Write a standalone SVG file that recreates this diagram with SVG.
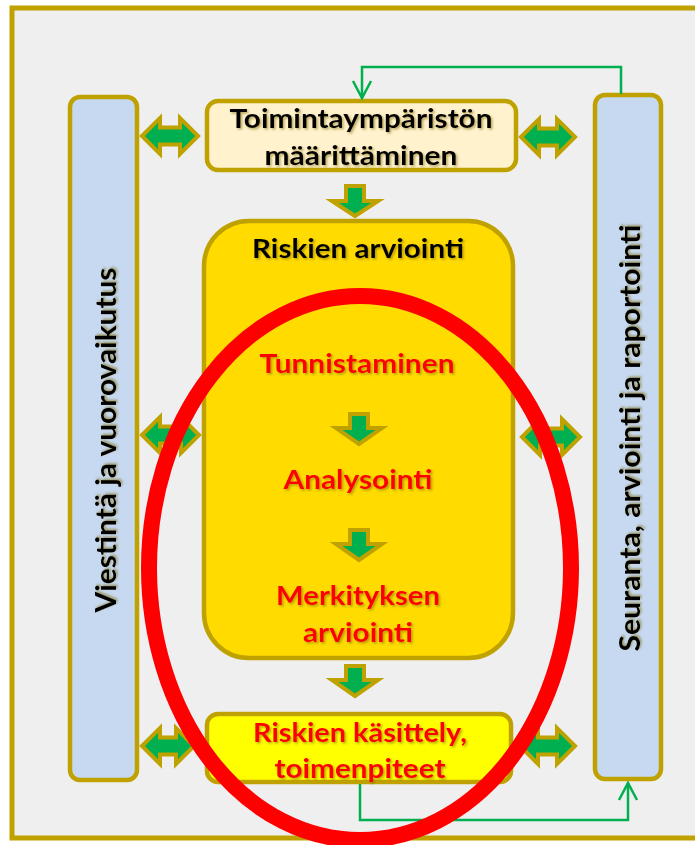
<svg xmlns="http://www.w3.org/2000/svg" width="695" height="845" viewBox="0 0 695 845">
<defs>
<style>
.frame{fill:#efefef;stroke:#bfa200;stroke-width:5}
.col{fill:#c6d9f1;stroke:#bfa200;stroke-width:4.5}
.box{stroke:#bfa200;stroke-width:4.5}
.blk{fill:#00b050;stroke:#bfa200;stroke-width:4;stroke-linejoin:miter}
.con{fill:none;stroke:#00b050;stroke-width:2.5}
.t{font-family:Lato,"Noto Sans","Liberation Sans",sans-serif;font-weight:bold;text-anchor:middle;filter:url(#sh)}
.k{fill:#000}
.r{fill:#ff0000}
</style>
<filter id="sh" x="-10%" y="-30%" width="120%" height="160%">
<feDropShadow dx="1.5" dy="1.5" stdDeviation="0.8" flood-color="#7a6500" flood-opacity="0.55"/>
</filter>
<marker id="open" viewBox="-20 -11 24 22" refX="0" refY="0" markerWidth="24" markerHeight="22" markerUnits="userSpaceOnUse" orient="auto">
<path d="M-17,-9 L0,0 L-17,9" fill="none" stroke="#00b050" stroke-width="2.5"/>
</marker>
</defs>
<rect x="0" y="0" width="695" height="845" fill="#ffffff"/>
<rect class="frame" x="12" y="8" width="720" height="830"/>

<g id="left-column">
<rect class="col" x="70" y="97" width="67" height="683" rx="10"/>
<text class="t k" transform="translate(116,440) rotate(-90)" font-size="28" textLength="345" lengthAdjust="spacingAndGlyphs">Viestintä ja vuorovaikutus</text>
</g>

<g id="right-column">
<rect class="col" x="595" y="95" width="66" height="684" rx="10"/>
<text class="t k" transform="translate(640,438) rotate(-90)" font-size="28" textLength="427" lengthAdjust="spacingAndGlyphs">Seuranta, arviointi ja raportointi</text>
</g>

<g id="toimintaymparisto">
<rect class="box" x="207" y="101" width="309" height="69" rx="11" fill="#fff2cc"/>
<text class="t k" x="361" y="128" font-size="27" textLength="263" lengthAdjust="spacingAndGlyphs">Toimintaympäristön</text>
<text class="t k" x="361" y="165" font-size="27" textLength="193" lengthAdjust="spacingAndGlyphs">määrittäminen</text>
</g>

<g id="riskien-arviointi">
<rect class="box" x="204" y="221" width="309" height="437" rx="45" fill="#ffdb00"/>
<text class="t k" x="358" y="258" font-size="27" textLength="212" lengthAdjust="spacingAndGlyphs">Riskien arviointi</text>
</g>

<g id="tunnistaminen">
<text class="t r" x="357" y="373" font-size="27" textLength="195" lengthAdjust="spacingAndGlyphs">Tunnistaminen</text>
</g>
<g id="analysointi">
<text class="t r" x="358" y="489" font-size="27" textLength="149" lengthAdjust="spacingAndGlyphs">Analysointi</text>
</g>
<g id="merkityksen-arviointi">
<text class="t r" x="358" y="605" font-size="27" textLength="164" lengthAdjust="spacingAndGlyphs">Merkityksen</text>
<text class="t r" x="358" y="642" font-size="27" textLength="110" lengthAdjust="spacingAndGlyphs">arviointi</text>
</g>

<g id="riskien-kasittely">
<rect class="box" x="207" y="714" width="304" height="68" rx="11" fill="#ffff00"/>
<text class="t r" x="360" y="742" font-size="27" textLength="214" lengthAdjust="spacingAndGlyphs">Riskien käsittely,</text>
<text class="t r" x="360" y="778" font-size="27" textLength="171" lengthAdjust="spacingAndGlyphs">toimenpiteet</text>
</g>

<g id="connectors">
<path class="con" d="M621,94 V67 H362 V98" marker-end="url(#open)"/>
<path class="con" d="M360,784 V820 H628 V783" marker-end="url(#open)"/>
<path class="blk" d="M142,136 L160,118 L160,127.5 L180,127.5 L180,118 L198,136 L180,154 L180,144.5 L160,144.5 L160,154 Z"/>
<path class="blk" d="M521,137 L539,119 L539,128.5 L557,128.5 L557,119 L575,137 L557,155 L557,145.5 L539,145.5 L539,155 Z"/>
<path class="blk" d="M142,435 L160,417 L160,426.5 L181,426.5 L181,417 L199,435 L181,453 L181,443.5 L160,443.5 L160,453 Z"/>
<path class="blk" d="M522,437 L540,419 L540,428.5 L562,428.5 L562,419 L580,437 L562,455 L562,445.5 L540,445.5 L540,455 Z"/>
<path class="blk" d="M142,746 L160,728 L160,737.5 L176,737.5 L176,728 L194,746 L176,764 L176,754.5 L160,754.5 L160,764 Z"/>
<path class="blk" d="M520,746 L538,728 L538,737.5 L557,737.5 L557,728 L575,746 L557,764 L557,754.5 L538,754.5 L538,764 Z"/>
<path class="blk" d="M346,186 H364 V201 H378 L355,216 L332,201 H346 Z"/>
<path class="blk" d="M350,414 H368 V428 H382 L359,444 L336,428 H350 Z"/>
<path class="blk" d="M350,530 H368 V544 H382 L359,560 L336,544 H350 Z"/>
<path class="blk" d="M346,666 H364 V680 H378 L355,696 L332,680 H346 Z"/>
</g>

<g id="highlight">
<ellipse cx="360" cy="568" rx="211" ry="272" fill="none" stroke="#ff0000" stroke-width="16"/>
</g>
</svg>
